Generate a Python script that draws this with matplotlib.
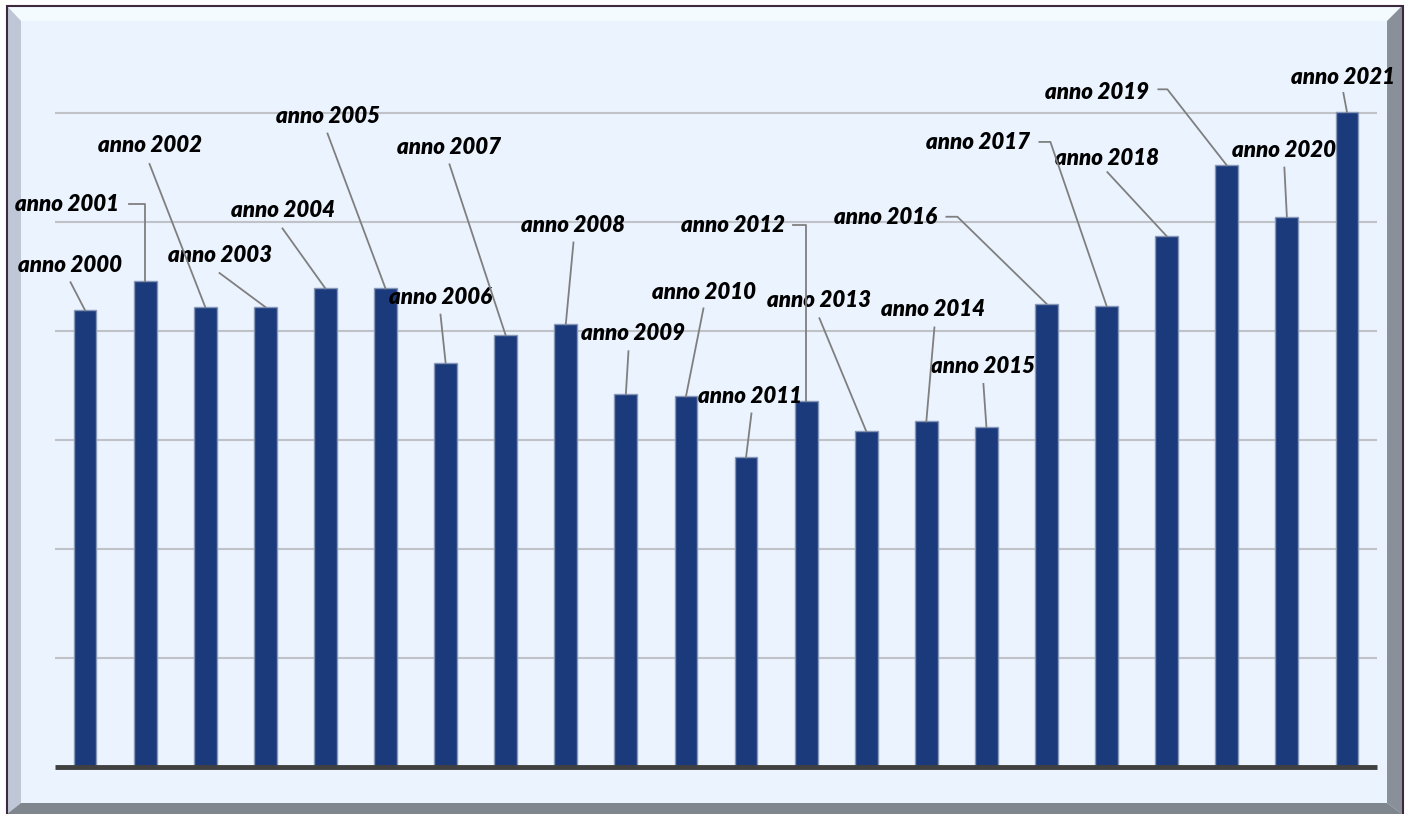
import matplotlib
matplotlib.use("Agg")
import matplotlib.pyplot as plt
from matplotlib.patches import Polygon, Rectangle
import numpy as np

# ---- data ----
years = [2000, 2001, 2002, 2003, 2004, 2005, 2006, 2007, 2008, 2009, 2010,
         2011, 2012, 2013, 2014, 2015, 2016, 2017, 2018, 2019, 2020, 2021]
labels = ["anno %d" % y for y in years]
values = [4.19, 4.46, 4.22, 4.22, 4.39, 4.39, 3.71, 3.96, 4.06, 3.42, 3.40,
          2.84, 3.36, 3.08, 3.17, 3.12, 4.25, 4.23, 4.87, 5.52, 5.05, 6.01]

# ---- layout: label / leader offsets in pixels relative to bar top ----
label_off = [(-15.5, 45), (-78.6, 76), (-55.7, 162), (-45.8, 52), (-42.9, 78),
             (-58, 172), (-5.1, 65), (-56.2, 188), (7.7, 99), (7.6, 61),
             (18.5, 104), (4.4, 61), (-72.7, 175), (-46.8, 131), (7.1, 112),
             (-3, 60), (-161.1, 86), (-128.2, 163), (-59.3, 78), (-129.4, 73),
             (-2.5, 66), (-3.6, 34)]
start_off = [(-14.5, 28), (-16.6, 77), (-55.7, 143), (-45.8, 34), (-42.9, 60),
             (-58, 155), (-5.1, 48), (-56.2, 171), (7.7, 82), (2.6, 43),
             (17.5, 88), (5.4, 44), (-12.7, 176), (-46.8, 113), (8.1, 94),
             (-3, 43), (-100.1, 87), (-67.2, 164), (-59.3, 64), (-68.4, 76),
             (-2.5, 49), (-3.6, 19)]
elbow_dx = [None, 0, None, None, None, None, None, None, None, None, None,
            None, 0, None, None, None, -89.1, -56.2, None, -59.4, None, None]

W, H = 1410, 814
fig = plt.figure(figsize=(W / 100, H / 100), dpi=100)
fig.patch.set_facecolor("white")

# background frame axes in pixel coords
bg = fig.add_axes([0, 0, 1, 1])
bg.set_xlim(0, W)
bg.set_ylim(H, 0)
bg.axis("off")
L, T, R, B = 7, 6, 1402, 814
iL, iT, iR, iB = 21, 21, 1387, 803
bg.add_patch(Rectangle((L, T), R - L, B - T, facecolor="#ebf3fe", edgecolor="none"))
bg.add_patch(Polygon([(L, T), (R, T), (iR, iT), (iL, iT)], closed=True,
                     facecolor="#f3fbff", edgecolor="none"))
bg.add_patch(Polygon([(L, T), (iL, iT), (iL, iB), (L, B)], closed=True,
                     facecolor="#bfc7d6", edgecolor="none"))
bg.add_patch(Polygon([(R, T), (R, B), (iR, iB), (iR, iT)], closed=True,
                     facecolor="#8a9099", edgecolor="none"))
bg.add_patch(Polygon([(L, B), (iL, iB), (iR, iB), (R, B)], closed=True,
                     facecolor="#80868e", edgecolor="none"))
bg.plot([L - 0.5, L - 0.5, R + 0.5, R + 0.5], [B, T - 0.5, T - 0.5, B],
        color="#3e2a3e", lw=1.5, solid_joinstyle="miter")

# main axes
unit = 109.0
ymax = 6.5
base_px = 767
ax = fig.add_axes([55 / W, (H - base_px) / H, 1322 / W, ymax * unit / H])
ax.set_facecolor("none")
x = np.arange(len(years))
ax.set_xlim(-0.5, len(years) - 0.5)
ax.set_ylim(0, ymax)
for s in ax.spines.values():
    s.set_visible(False)
ax.set_xticks([])
ax.set_yticks(np.arange(1, 7))
ax.tick_params(axis="y", length=0, labelleft=False)
ax.yaxis.grid(True, color="#bfc3c8", lw=1.5)
ax.set_axisbelow(True)
ax.bar(x, values, width=0.38, color="#1b3a7c", edgecolor="#8797b8", lw=1.0, zorder=3)
ax.axhline(0, color="#404040", lw=3.5, zorder=4, clip_on=False,
           solid_capstyle="butt")

fig.canvas.draw()
font = dict(family=["Lato", "DejaVu Sans"], fontsize=16, fontweight="heavy",
            fontstyle="italic", color="black")
for i in range(len(years)):
    px, py = ax.transData.transform((x[i], values[i]))
    lx, ly = label_off[i]
    sx, sy = start_off[i]
    ax.annotate(labels[i], xy=(x[i], values[i]), xytext=(lx, ly),
                textcoords="offset pixels", ha="center", va="center",
                annotation_clip=False, zorder=6, **font)
    pts = [(px + sx, py + sy)]
    if elbow_dx[i] is not None:
        pts.append((px + elbow_dx[i], py + sy))
    pts.append((px, py))
    xs, ys = zip(*pts)
    ln = plt.Line2D(xs, ys, transform=None, color="#7f7f7f", lw=1.3, zorder=5)
    fig.add_artist(ln)

fig.savefig("out.png", dpi=100)
